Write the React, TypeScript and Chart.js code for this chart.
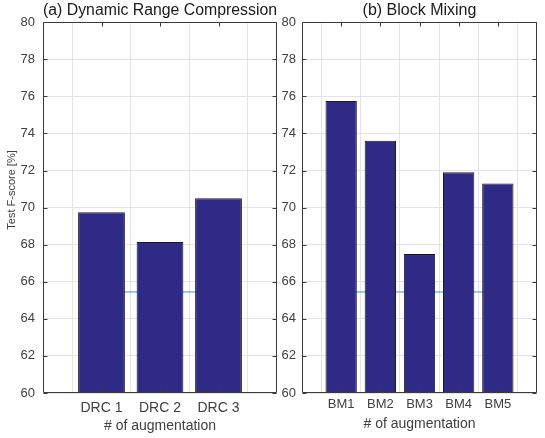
import React, { useEffect, useRef } from "react";
import { Chart, registerables } from "chart.js";

Chart.register(...registerables);

// ---- data ----
const drcCategories = ["DRC 1", "DRC 2", "DRC 3"];
const drcValues = [69.75, 68.15, 70.5];
const bmCategories = ["BM1", "BM2", "BM3", "BM4", "BM5"];
const bmValues = [75.75, 73.6, 67.5, 71.9, 71.3];
const baselineValue = 65.45;
const yMin = 60;
const yMax = 80;
const yStep = 2;
const panelTitles = ["(a) Dynamic Range Compression", "(b) Block Mixing"];
const xAxisTitle = "# of augmentation";
const yAxisTitle = "Test F-score [%]";

const FONT = "'Liberation Sans', Arial, Helvetica, sans-serif";
const BAR_FILL = "#2f2a86";
const BAR_EDGE = "#1a1a1a";
const LINE_COLOR = "#2f9ad8";
const GRID = "#e4e4e4";
const TEXT = "#404040";

const boxPlugin = {
  id: "boxPlugin",
  afterDatasetsDraw(chart: any) {
    const { ctx, chartArea, scales } = chart;
    const l = Math.round(chartArea.left) + 0.5;
    const r = Math.round(chartArea.right) - 0.5;
    const t = Math.round(chartArea.top) + 0.5;
    const b = Math.round(chartArea.bottom) - 0.5;
    ctx.save();
    ctx.strokeStyle = "#3a3a3a";
    ctx.lineWidth = 1;
    ctx.beginPath();
    ctx.rect(l, t, r - l, b - t);
    ctx.stroke();
    // inward tick marks
    ctx.beginPath();
    scales.y.ticks.forEach((tk: any) => {
      const y = Math.round(scales.y.getPixelForValue(tk.value)) + 0.5;
      ctx.moveTo(l, y);
      ctx.lineTo(l + 4, y);
      ctx.moveTo(r, y);
      ctx.lineTo(r - 4, y);
    });
    const n = chart.options.plugins.boxPlugin.count;
    for (let i = 1; i <= n; i++) {
      const x = Math.round(scales.x.getPixelForValue(i)) + 0.5;
      ctx.moveTo(x, b);
      ctx.lineTo(x, b - 4);
      ctx.moveTo(x, t);
      ctx.lineTo(x, t + 4);
    }
    ctx.stroke();
    ctx.restore();
  },
  afterDraw(chart: any) {
    const opts = chart.options.plugins.boxPlugin;
    if (!opts.yLabel) return;
    const { ctx } = chart;
    ctx.save();
    ctx.translate(opts.yLabelX, opts.yLabelY);
    ctx.rotate(-Math.PI / 2);
    ctx.font = `11px ${FONT}`;
    ctx.fillStyle = TEXT;
    ctx.textAlign = "center";
    ctx.textBaseline = "middle";
    ctx.fillText(opts.yLabel, 0, 0);
    ctx.restore();
  },
};

type PanelProps = {
  categories: string[];
  values: number[];
  title: string;
  left: number;
  width: number;
  yAxisWidth: number;
  padRight: number;
  tickFontSize: number;
  tickPad: number;
  xTickPad: number;
  xTitlePadBottom: number;
  yLabel?: string;
};

function Panel(p: PanelProps) {
  const ref = useRef<HTMLCanvasElement | null>(null);
  useEffect(() => {
    if (!ref.current) return;
    const n = p.categories.length;
    const barData = p.values.map((v, i) => ({ x: i + 1, y: v }));
    const lineData = p.categories.map((_, i) => ({ x: i + 1, y: baselineValue }));
    const chart = new Chart(ref.current, {
      type: "bar",
      data: {
        datasets: [
          {
            type: "bar",
            data: barData as any,
            backgroundColor: BAR_FILL,
            borderColor: BAR_EDGE,
            borderWidth: 1,
            barPercentage: 0.8,
            categoryPercentage: 1,
            order: 1,
          } as any,
          {
            type: "line",
            data: lineData as any,
            borderColor: LINE_COLOR,
            borderWidth: 1,
            pointRadius: 0,
            order: 2,
          } as any,
        ],
      },
      plugins: [boxPlugin as any],
      options: {
        animation: false,
        responsive: false,
        devicePixelRatio: 1,
        layout: { padding: { left: 0, right: p.padRight, top: 0, bottom: 0 } },
        plugins: {
          legend: { display: false },
          tooltip: { enabled: false },
          title: {
            display: true,
            text: p.title,
            fullSize: false,
            color: "#1a1a1a",
            font: { family: FONT, size: 16, weight: "normal" as any, lineHeight: 1.2 },
            padding: { top: 1, bottom: 2 },
          },
          boxPlugin: {
            count: n,
            yLabel: p.yLabel,
            yLabelX: 12,
            yLabelY: 190,
          },
        } as any,
        scales: {
          x: {
            type: "linear",
            min: 0,
            max: n + 1,
            offset: false,
            afterFit: (s: any) => {
              s.height = 45;
            },
            ticks: {
              stepSize: 1,
              autoSkip: false,
              maxRotation: 0,
              padding: p.xTickPad,
              color: TEXT,
              font: { family: FONT, size: p.tickFontSize },
              callback: (v: any) => p.categories[Number(v) - 1] ?? "",
            },
            grid: { color: GRID, drawTicks: false },
            border: { display: false },
            title: {
              display: true,
              text: xAxisTitle,
              color: TEXT,
              font: { family: FONT, size: 14 },
              padding: { top: 0, bottom: p.xTitlePadBottom },
            },
          },
          y: {
            type: "linear",
            min: yMin,
            max: yMax,
            afterFit: (s: any) => {
              s.width = p.yAxisWidth;
            },
            ticks: {
              stepSize: yStep,
              padding: p.tickPad,
              color: TEXT,
              font: { family: FONT, size: 13 },
            },
            grid: { color: GRID, drawTicks: false },
            border: { display: false },
          },
        },
      } as any,
    });
    return () => chart.destroy();
  }, []);
  return (
    <canvas
      ref={ref}
      width={p.width}
      height={438}
      style={{ position: "absolute", left: p.left, top: 0, width: p.width, height: 438 }}
    />
  );
}

export default function App() {
  return (
    <div
      style={{
        position: "absolute",
        left: 0,
        top: 0,
        width: 545,
        height: 438,
        background: "#ffffff",
        overflow: "hidden",
      }}
    >
      <Panel
        categories={drcCategories}
        values={drcValues}
        title={panelTitles[0]}
        left={0}
        width={290}
        yAxisWidth={43}
        padRight={13}
        tickFontSize={14}
        tickPad={8}
        xTickPad={7}
        xTitlePadBottom={3}
        yLabel={yAxisTitle}
      />
      <Panel
        categories={bmCategories}
        values={bmValues}
        title={panelTitles[1]}
        left={272}
        width={273}
        yAxisWidth={30}
        padRight={8}
        tickFontSize={13}
        tickPad={6}
        xTickPad={4}
        xTitlePadBottom={5}
      />
    </div>
  );
}
